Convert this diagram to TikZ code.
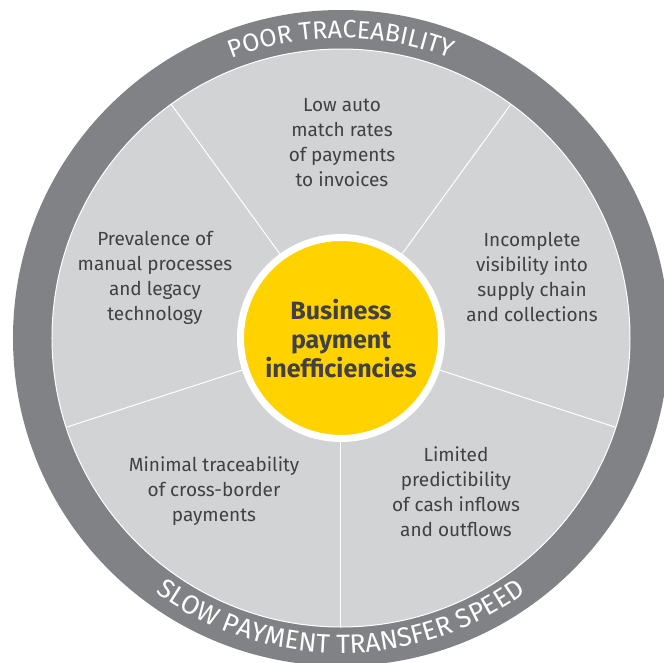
\documentclass[tikz,border=0pt]{standalone}
\usepackage{fontspec}
\setmainfont{Fira Sans}
\usetikzlibrary{decorations.text}
\definecolor{ringgray}{HTML}{808285}
\definecolor{panelgray}{HTML}{D1D3D4}
\definecolor{eyyellow}{HTML}{FFD200}
\definecolor{txtgray}{HTML}{414042}
\tikzset{
  paneltext/.style={align=center, text=txtgray, font=\fontsize{19}{25}\selectfont, inner sep=0pt},
  centertext/.style={align=center, text=txtgray, font=\bfseries\fontsize{25}{29}\selectfont, inner sep=0pt},
  divider/.style={draw=white, line width=1pt},
}
\begin{document}
\begin{tikzpicture}[x=1pt,y=1pt]
\useasboundingbox[fill=white] (-341,-324) rectangle (323,338);
% outer ring
\fill[ringgray] (0,0) circle[radius=328pt];
\fill[panelgray] (0,0) circle[radius=289pt];
\draw[white, line width=1pt] (0,0) circle[radius=289pt];
% dividers
\foreach \a [count=\i] in {54,126,198,270,342} {
  \coordinate (in\i) at (\a:104pt);
  \coordinate (out\i) at (\a:289pt);
  \draw[divider] (in\i) -- (out\i);
}
% center
\node[circle, fill=eyyellow, draw=white, line width=7pt, minimum size=201pt, inner sep=0pt] (hub) at (0,0) {};
\node[centertext] (hubtext) at (0,-1) {Business\\payment\\inefficiencies};
% panels
\node[paneltext] (p1) at (1,195) {Low auto\\match rates\\of payments\\to invoices};
\node[paneltext] (p2) at (191,61) {Incomplete\\visibility into\\supply chain\\and collections};
\node[paneltext] (p3) at (-186,60) {Prevalence of\\manual processes\\and legacy\\technology};
\node[paneltext] (p4) at (-127,-153) {Minimal traceability\\of cross-border\\payments};
\node[paneltext] (p5) at (115,-154) {Limited\\predictibility\\of cash inflows\\and outflows};
% ring texts
\path[decorate, decoration={text along path, text align=center, text color=white,
  text={|\fontsize{25}{25}\selectfont|POOR TRACEABILITY}}]
  (160:300pt) arc[start angle=160, end angle=20, radius=300pt];
\path[decorate, decoration={text along path, text align=center, text color=white,
  text={|\fontsize{26.5}{26.5}\selectfont|SLOW PAYMENT TRANSFER SPEED}}]
  (200:315pt) arc[start angle=200, end angle=340, radius=315pt];
\end{tikzpicture}
\end{document}
